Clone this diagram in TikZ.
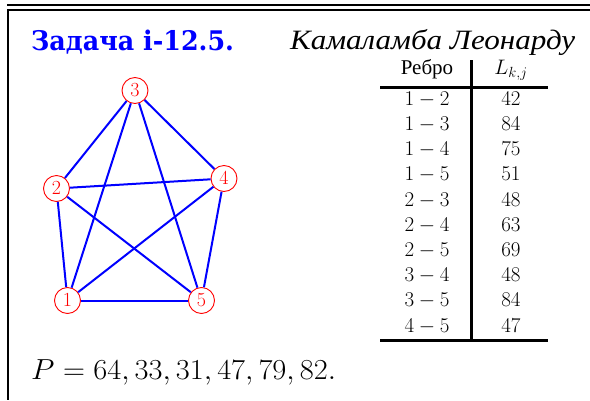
\RequirePackage{fix-cm}
\documentclass[tikz,border=0pt]{standalone}
\usepackage{fontspec}
\newfontfamily\titlefont{DejaVu Serif}
\newfontfamily\cyrfont{Liberation Serif}
\begin{document}
\begin{tikzpicture}[x=1pt, y=-1pt,
  vertex/.style={circle, draw=red, text=red, line width=0.9pt, minimum size=26pt, inner sep=0pt, font=\fontsize{20}{24}\selectfont},
  edge/.style={blue, line width=2pt},
  rule/.style={line width=2.4pt},
  cell/.style={anchor=base, inner sep=0pt, font=\fontsize{21}{26}\selectfont}]
  \useasboundingbox (0,0) rectangle (590,400);

  % Frame
  \draw[line width=2pt] (7,4.5) -- (590,4.5);
  \draw[line width=2pt] (590,9.5) -- (7.5,9.5) -- (7.5,400);

  % Heading
  \node[anchor=base west, inner sep=0pt, text=blue, font=\titlefont\bfseries\fontsize{27}{32}\selectfont] (title) at (31,50) {\scalebox{0.94}[1]{Задача i-12.5.}};
  \node[anchor=base west, inner sep=0pt, font=\cyrfont\itshape\fontsize{28}{32}\selectfont] (author) at (290,49) {\scalebox{1.11}[1]{Камаламба Леонарду}};

  % Graph
  \node[vertex] (v1) at (67.5,300.5) {$1$};
  \node[vertex] (v2) at (56.5,188.5) {$2$};
  \node[vertex] (v3) at (135,90.5) {$3$};
  \node[vertex] (v4) at (224,178.5) {$4$};
  \node[vertex] (v5) at (201.5,300.5) {$5$};
  \foreach \a/\b in {1/2,1/3,1/4,1/5,2/3,2/4,2/5,3/4,3/5,4/5}
    \draw[edge] (v\a) -- (v\b);

  % Table of edges
  \node[cell, font=\cyrfont\fontsize{21}{26}\selectfont] (head1) at (427,74) {Ребро};
  \node[cell] (head2) at (511,74) {$L_{k,j}$};
  \foreach \a/\b/\w [count=\i] in {1/2/42,1/3/84,1/4/75,1/5/51,2/3/48,2/4/63,2/5/69,3/4/48,3/5/84,4/5/47}{
    \node[cell] (e\i) at (427,{80+25.2*\i}) {$\a-\b$};
    \node[cell] (w\i) at (511,{80+25.2*\i}) {$\w$};
  }
  \draw[rule] (380,87.5) -- (548,87.5);
  \draw[rule] (380,340.5) -- (548,340.5);
  \draw[rule] (471.5,60) -- (471.5,340.5);

  % Answer
  \node[anchor=base west, inner sep=0pt, font=\fontsize{29}{34}\selectfont] (answer) at (31,379) {\scalebox{1.05}[1]{$P=64,33,31,47,79,82.$}};
\end{tikzpicture}
\end{document}
